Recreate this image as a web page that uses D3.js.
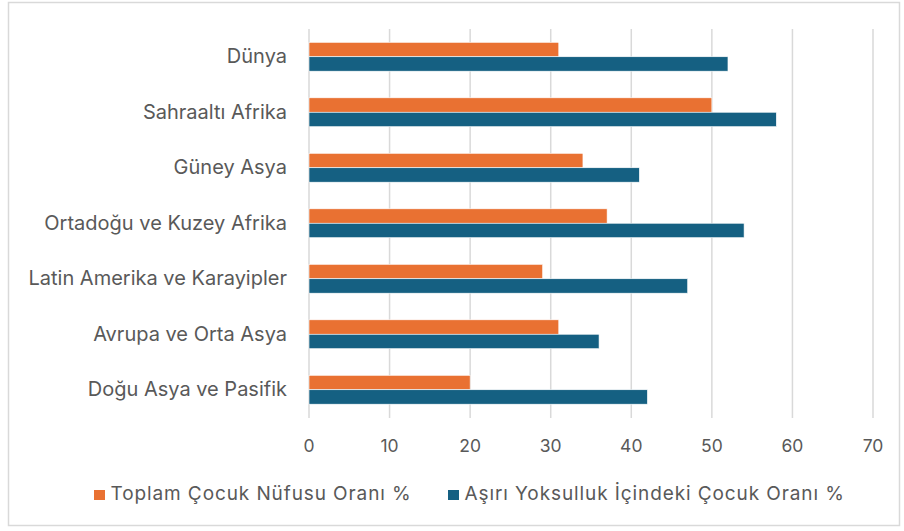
<!DOCTYPE html>
<html>
<head>
<meta charset="utf-8">
<script src="https://cdn.jsdelivr.net/npm/d3@7"></script>
<style>
  body { margin: 0; background: #fff; }
  text { font-family: Inter, "Open Sans", sans-serif; fill: #595959; }
</style>
</head>
<body>
<svg id="chart" width="904" height="531"></svg>
<script>
const regions = ["Dünya", "Sahraaltı Afrika", "Güney Asya", "Ortadoğu ve Kuzey Afrika",
  "Latin Amerika ve Karayipler", "Avrupa ve Orta Asya", "Doğu Asya ve Pasifik"];
const seriesNames = ["Toplam Çocuk Nüfusu Oranı %", "Aşırı Yoksulluk İçindeki Çocuk Oranı %"];
const childShare = [31, 50, 34, 37, 29, 31, 20];
const povertyShare = [52, 58, 41, 54, 47, 36, 42];
const xTicks = [0, 10, 20, 30, 40, 50, 60, 70];
const colors = ["#E97132", "#156082"];

const svg = d3.select("#chart");

// outer frame
svg.append("rect")
  .attr("x", 8.5).attr("y", 2.5)
  .attr("width", 891).attr("height", 523)
  .attr("fill", "#fff")
  .attr("stroke", "#d9d9d9")
  .attr("stroke-width", 1.5);

const x = d3.scaleLinear().domain([0, 70]).range([309, 873]);
const y = d3.scaleBand().domain(regions).range([29, 417.5]).paddingInner(0.48).paddingOuter(0.24);
const sub = d3.scaleBand().domain([0, 1]).range([0, y.bandwidth()]);

// gridlines
svg.append("g")
  .selectAll("line")
  .data(xTicks)
  .join("line")
  .attr("x1", d => x(d)).attr("x2", d => x(d))
  .attr("y1", 29).attr("y2", 418)
  .attr("stroke", "#d9d9d9")
  .attr("stroke-width", 1.5);

// tick labels
svg.append("g")
  .selectAll("text")
  .data(xTicks)
  .join("text")
  .attr("x", d => x(d))
  .attr("y", 452)
  .attr("text-anchor", "middle")
  .style("font-size", "17.5px")
  .text(d => d);

// category labels
svg.append("g")
  .selectAll("text")
  .data(regions)
  .join("text")
  .attr("x", 287)
  .attr("y", d => y(d) + y.bandwidth() / 2 + 6.5)
  .attr("text-anchor", "end")
  .style("font-size", "20px")
  .text(d => d);

// bars
const rows = regions.map((r, i) => ({ region: r, values: [childShare[i], povertyShare[i]] }));
const groups = svg.append("g")
  .selectAll("g")
  .data(rows)
  .join("g")
  .attr("transform", d => `translate(0,${y(d.region)})`);

groups.selectAll("rect")
  .data(d => d.values.map((v, k) => ({ k, v })))
  .join("rect")
  .attr("x", x(0))
  .attr("y", d => sub(d.k))
  .attr("width", d => x(d.v) - x(0))
  .attr("height", sub.bandwidth())
  .attr("fill", d => colors[d.k])
  .attr("stroke", "#fff")
  .attr("stroke-width", 0.6);

// legend
const legendX = [94, 448];
const legend = svg.append("g")
  .selectAll("g")
  .data(seriesNames)
  .join("g")
  .attr("transform", (d, i) => `translate(${legendX[i]},490)`);

legend.append("rect")
  .attr("width", 11).attr("height", 10)
  .attr("fill", (d, i) => colors[i]);

legend.append("text")
  .attr("x", 16.5)
  .attr("y", 10)
  .style("font-size", "19px")
  .style("letter-spacing", "0.9px")
  .text(d => d);
</script>
</body>
</html>
